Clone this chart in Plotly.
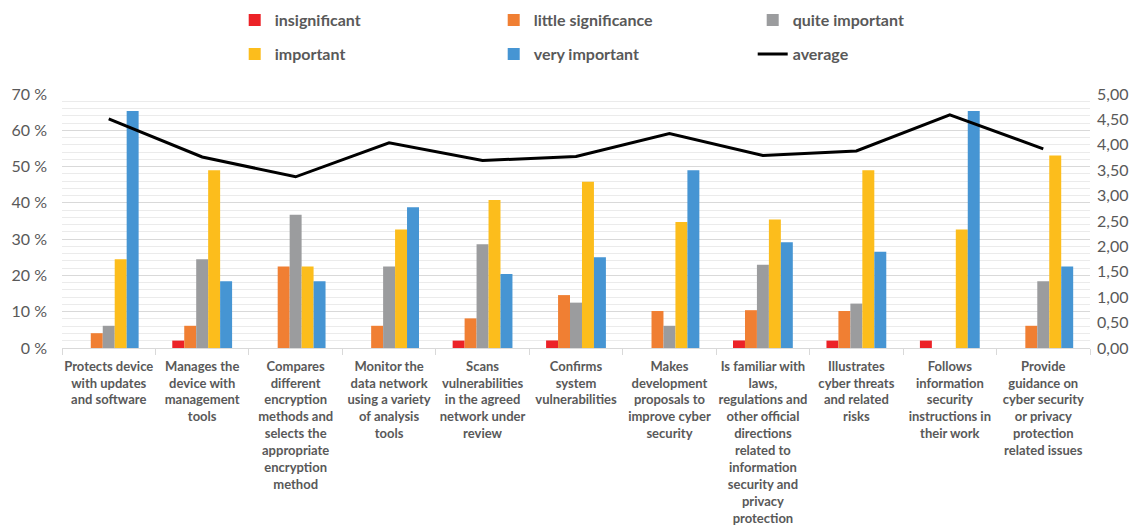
import plotly.graph_objects as go

# Survey items (x-axis categories), line breaks as printed under the axis
categories = [
    "Protects device<br>with updates<br>and software",
    "Manages the<br>device with<br>management<br>tools",
    "Compares<br>different<br>encryption<br>methods and<br>selects the<br>appropriate<br>encryption<br>method",
    "Monitor the<br>data network<br>using a variety<br>of analysis<br>tools",
    "Scans<br>vulnerabilities<br>in the agreed<br>network under<br>review",
    "Confirms<br>system<br>vulnerabilities",
    "Makes<br>development<br>proposals to<br>improve cyber<br>security",
    "Is familiar with<br>laws,<br>regulations and<br>other official<br>directions<br>related to<br>information<br>security and<br>privacy<br>protection",
    "Illustrates<br>cyber threats<br>and related<br>risks",
    "Follows<br>information<br>security<br>instructions in<br>their work",
    "Provide<br>guidance on<br>cyber security<br>or privacy<br>protection<br>related issues",
]

# Share of respondents (%) per rating
insignificant = [0, 2.04, 0, 0, 2.04, 2.08, 0, 2.08, 2.04, 2.04, 0]
little_significance = [4.08, 6.12, 22.45, 6.12, 8.16, 14.58, 10.20, 10.42, 10.20, 0, 6.12]
quite_important = [6.12, 24.49, 36.73, 22.45, 28.57, 12.50, 6.12, 22.92, 12.24, 0, 18.37]
important = [24.49, 48.98, 22.45, 32.65, 40.82, 45.83, 34.69, 35.42, 48.98, 32.65, 53.06]
very_important = [65.31, 18.37, 18.37, 38.78, 20.41, 25.00, 48.98, 29.17, 26.53, 65.31, 22.45]

# Mean rating on the 1-5 scale (right axis)
average = [4.51, 3.76, 3.37, 4.04, 3.69, 3.77, 4.22, 3.79, 3.88, 4.59, 3.92]

left_ticks = [0, 10, 20, 30, 40, 50, 60, 70]
right_ticks = [0, 0.5, 1, 1.5, 2, 2.5, 3, 3.5, 4, 4.5, 5]

FONT = "Lato"
TEXT = "#595959"

series = [
    ("insignificant", insignificant, "#EC2227", "legend"),
    ("little significance", little_significance, "#F07F33", "legend"),
    ("quite important", quite_important, "#9B9C9E", "legend"),
    ("important", important, "#FCBD1C", "legend2"),
    ("very important", very_important, "#4695D3", "legend2"),
]

fig = go.Figure()
for name, vals, color, lg in series:
    fig.add_trace(go.Bar(
        x=categories, y=vals, name=name, legend=lg,
        marker=dict(color=color, line=dict(width=0)),
        yaxis="y",
    ))

fig.add_trace(go.Scatter(
    x=categories, y=average, name="average", legend="legend2",
    mode="lines", line=dict(color="black", width=3),
    yaxis="y2",
))

legend_font = dict(family=FONT, size=16, color=TEXT, weight="bold")

fig.update_layout(
    width=1146, height=530,
    margin=dict(l=62, r=56, t=94, b=182, autoexpand=False),
    paper_bgcolor="white", plot_bgcolor="white",
    separators=", ",
    barmode="group", bargap=0.36, bargroupgap=0,
    hovermode=False,
    font=dict(family=FONT, color=TEXT),
    legend=dict(
        orientation="h", x=0.168, xanchor="left", y=1.291, yanchor="middle",
        entrywidth=214, font=legend_font, itemwidth=30,
        bgcolor="rgba(0,0,0,0)", traceorder="normal",
    ),
    legend2=dict(
        orientation="h", x=0.168, xanchor="left", y=1.157, yanchor="middle",
        entrywidth=214, font=legend_font, itemwidth=30,
        bgcolor="rgba(0,0,0,0)", traceorder="normal",
    ),
    xaxis=dict(
        type="category", tickson="boundaries", ticks="outside", ticklen=6,
        tickcolor="#d9d9d9", showline=True, linecolor="#d9d9d9", linewidth=1,
        tickangle=0, showgrid=False, ticklabelstandoff=6,
        tickfont=dict(family=FONT, size=13, color=TEXT, weight="bold"),
    ),
    yaxis=dict(
        range=[0, 70], tickvals=left_ticks,
        ticktext=[f"{v} %" for v in left_ticks],
        showgrid=True, gridcolor="#d9d9d9", gridwidth=1,
        minor=dict(dtick=2, showgrid=True, gridcolor="#ebebeb", gridwidth=1),
        zeroline=False, showline=False, ticks="",
        ticklabelstandoff=14,
        tickfont=dict(family=FONT, size=16, color=TEXT),
    ),
    yaxis2=dict(
        range=[0, 5], tickvals=right_ticks, tickformat=".2f",
        overlaying="y", side="right", showgrid=False, zeroline=False,
        showline=False, ticks="", ticklabelstandoff=6,
        tickfont=dict(family=FONT, size=16, color=TEXT),
    ),
)

fig.write_html("out.html")
